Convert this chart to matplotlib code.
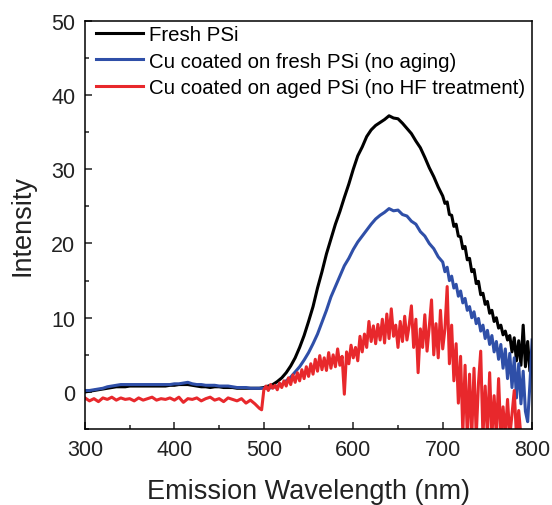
#!/usr/bin/env python3

import numpy as np
import matplotlib
matplotlib.use("Agg")
import matplotlib.pyplot as plt
from matplotlib.ticker import MultipleLocator

# wavelength grids (nm)
wl_fine = [300 + 5 * i for i in range(80)] + [700 + 2.5 * i for i in range(41)]
wl_red = [300 + 5 * i for i in range(40)] + [497.5] + [500 + 2.5 * i for i in range(117)]

fresh = [
    0.0, 0.1, 0.2, 0.3, 0.4, 0.5, 0.6, 0.7, 0.7, 0.7,
    0.8, 0.8, 0.8, 0.8, 0.8, 0.8, 0.8, 0.8, 0.8, 0.9,
    0.9, 1.0, 1.0, 1.0, 0.9, 0.8, 0.7, 0.7, 0.6, 0.7,
    0.7, 0.6, 0.6, 0.6, 0.5, 0.5, 0.5, 0.5, 0.5, 0.5,
    0.6, 0.8, 1.0, 1.4, 1.9, 2.6, 3.5, 4.6, 6.0, 7.6,
    9.5, 11.5, 14.0, 16.2, 18.6, 20.6, 22.6, 24.3, 26.2, 28.0,
    30.0, 31.8, 33.0, 34.4, 35.3, 35.9, 36.3, 36.7, 37.2, 36.9,
    36.8, 36.2, 35.5, 34.8, 33.8, 32.9, 31.6, 30.2, 29.0, 27.6,
    26.4, 25.4, 25.6, 23.9, 23.8, 22.3, 22.6, 21.0, 20.9, 19.3,
    19.6, 17.8, 18.0, 16.2, 16.5, 14.6, 14.9, 13.1, 13.3, 11.8,
    12.2, 10.6, 11.0, 9.5, 10.0, 8.6, 9.0, 7.7, 8.2, 7.0,
    7.6, 5.4, 7.3, 4.2, 6.9, 3.6, 9.0, 3.4, 6.8, 2.8,
    5.6,
]

cu_fresh = [
    0.2, 0.2, 0.3, 0.4, 0.5, 0.7, 0.8, 0.9, 1.0, 1.0,
    1.0, 1.0, 1.0, 1.0, 1.0, 1.0, 1.0, 1.0, 1.0, 1.0,
    1.1, 1.1, 1.2, 1.3, 1.1, 1.0, 1.0, 0.9, 0.9, 0.9,
    0.8, 0.8, 0.8, 0.7, 0.6, 0.6, 0.6, 0.5, 0.5, 0.5,
    0.5, 0.5, 0.6, 0.8, 1.0, 1.5, 2.0, 2.7, 3.4, 4.3,
    5.3, 6.5, 7.8, 9.4, 11.0, 12.8, 14.2, 15.6, 17.0, 18.0,
    19.2, 20.2, 21.0, 21.8, 22.6, 23.3, 23.8, 24.2, 24.7, 24.4,
    24.5, 23.9, 23.7, 23.0, 22.6, 21.6, 21.0, 20.0, 19.3, 18.2,
    17.5, 16.2, 16.8, 15.0, 15.6, 14.0, 14.5, 12.9, 13.6, 12.0,
    12.6, 11.0, 11.5, 10.0, 10.8, 9.2, 9.9, 8.2, 9.0, 7.2,
    8.3, 6.4, 7.6, 5.4, 6.8, 4.4, 6.4, 3.2, 5.8, 1.8,
    5.2, 0.6, 4.6, -0.8, 3.8, -1.6, 2.8, -2.6, -4.0, 1.0,
    7.0,
]

cu_aged = [
    -0.8, -1.2, -0.9, -1.3, -0.8, -1.0, -0.7, -1.1, -0.8, -1.0,
    -0.9, -1.2, -0.8, -1.1, -0.9, -0.7, -1.1, -0.9, -1.0, -0.8,
    -1.1, -0.7, -1.4, -0.9, -1.0, -0.8, -1.2, -0.9, -0.7, -1.1,
    -0.9, -1.3, -0.8, -1.0, -1.2, -0.9, -1.5, -1.1, -1.6, -2.2,
    -2.4,
    0.3, 0.8, 0.2, 1.0, 0.5, 0.9, 0.3, 1.2, 0.6, 1.5,
    0.8, 1.9, 1.0, 2.3, 1.3, 2.6, 1.5, 3.0, 1.8, 3.4,
    2.1, 3.8, 2.4, 4.4, 2.8, 4.9, 3.0, 4.6, 2.9, 5.3,
    3.2, 5.0, 3.4, 5.8, 3.6, 4.8, -0.3, 5.4, 3.8, 6.3,
    4.6, 6.0, 4.2, 7.5, 5.4, 7.8, 6.0, 9.5, 6.8, 8.9,
    6.5, 9.1, 7.0, 9.8, 6.6, 10.5, 7.2, 11.2, 7.5, 9.0,
    6.0, 9.5, 6.8, 10.2, 7.0, 9.0, 11.6, 6.0, 9.8, 2.6,
    8.5, 6.0, 10.4, 5.5, 8.8, 12.4, 5.0, 9.2, 4.6, 11.0,
    5.8, 8.5, 14.2, 3.8, 9.0, 1.5, 6.5, -1.5, 4.8, -5.5,
    3.6, -6.0, 2.4, -6.0, 3.2, -6.0, 1.2, 5.5, -6.0, 0.8,
    -6.0, 2.6, -6.0, -0.5, -6.0, 1.8, -6.0, -2.0, -6.0, -1.0,
    -6.0, -3.0, 0.2, -6.0, -2.5, -6.0, -6.0,
]

labels = ["Fresh PSi",
          "Cu coated on fresh PSi (no aging)",
          "Cu coated on aged PSi (no HF treatment)"]
colors = ["black", "#2f4fa8", "#e8282c"]

plt.rcParams["font.family"] = ["Liberation Sans", "DejaVu Sans"]

fig = plt.figure(figsize=(5.52, 5.06), dpi=100)
ax = fig.add_axes([0.154, 0.150, 0.810, 0.807])

n_red = min(len(wl_red), len(cu_aged))
ax.plot(wl_fine, fresh, color=colors[0], lw=2.2, label=labels[0])
ax.plot(wl_fine, cu_fresh, color=colors[1], lw=2.2, label=labels[1])
ax.plot(wl_red[:n_red], cu_aged[:n_red], color=colors[2], lw=2.2, label=labels[2])

ax.set_xlim(300, 800)
ax.set_ylim(-5, 50)
ax.xaxis.set_major_locator(MultipleLocator(100))
ax.xaxis.set_minor_locator(MultipleLocator(50))
ax.yaxis.set_major_locator(MultipleLocator(10))
ax.yaxis.set_minor_locator(MultipleLocator(5))
ax.tick_params(which="both", direction="in", width=1.1, labelsize=15.5,
               top=False, right=False, colors="#222222")
ax.tick_params(which="major", length=5, pad=7)
ax.tick_params(which="minor", length=3)
for sp in ax.spines.values():
    sp.set_linewidth(1.1)

ax.set_xlabel("Emission Wavelength (nm)", fontsize=19.5, color="#222222", labelpad=13)
ax.set_ylabel("Intensity", fontsize=19.5, color="#222222", labelpad=11)

ax.legend(loc="upper left", bbox_to_anchor=(0.015, 1.0), frameon=False,
          fontsize=14.7, handlelength=2.3, handletextpad=0.3,
          labelspacing=0.38, borderaxespad=0.0, borderpad=0.2)

fig.savefig("out.png", dpi=100)
